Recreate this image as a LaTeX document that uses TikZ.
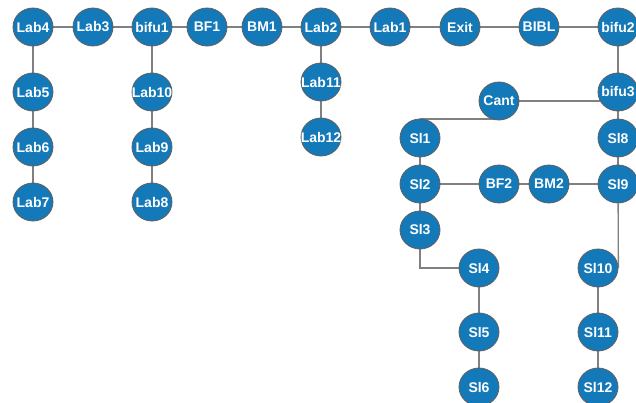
\documentclass[tikz,border=0pt]{standalone}
\usepackage{fontspec}
\setmainfont{Liberation Sans}
\usetikzlibrary{shapes.geometric,backgrounds}
\definecolor{nodeblue}{RGB}{19,121,185}
\definecolor{rimgray}{RGB}{95,95,95}
\definecolor{linkgray}{RGB}{128,128,128}
\tikzset{
  station/.style={ellipse, fill=nodeblue, draw=rimgray, line width=0.8pt,
    minimum width=40pt, minimum height=38pt, inner sep=0pt,
    text=white, font=\fontsize{14}{14}\selectfont\bfseries},
  link/.style={draw=linkgray, line width=1.3pt}
}
% label of a station, centred and allowed to run past the rim
\newcommand{\tag}[1]{\makebox[0pt][c]{#1}}
\begin{document}
\begin{tikzpicture}[x=1pt,y=-1pt]
\useasboundingbox[clip] (0,0) rectangle (636,403);
% top corridor
\node[station] (Lab4)  at (33,27)  {\tag{Lab4}};
\node[station] (Lab3)  at (93,27)  {\tag{Lab3}};
\node[station] (bifu1) at (152,27) {\tag{bifu1}};
\node[station] (BF1)   at (207,27) {\tag{BF1}};
\node[station] (BM1)   at (262,27) {\tag{BM1}};
\node[station] (Lab2)  at (321,27) {\tag{Lab2}};
\node[station] (Lab1)  at (390,27) {\tag{Lab1}};
\node[station] (Exit)  at (460,27) {\tag{Exit}};
\node[station] (BIBL)  at (539,27) {\tag{BIBL}};
\node[station] (bifu2) at (618,27) {\tag{bifu2}};
% left branches
\node[station] (Lab5)  at (33,92)   {\tag{Lab5}};
\node[station] (Lab6)  at (33,147)  {\tag{Lab6}};
\node[station] (Lab7)  at (33,202)  {\tag{Lab7}};
\node[station] (Lab10) at (152,92)  {\tag{Lab10}};
\node[station] (Lab9)  at (152,147) {\tag{Lab9}};
\node[station] (Lab8)  at (152,202) {\tag{Lab8}};
\node[station] (Lab11) at (321,82)  {\tag{Lab11}};
\node[station] (Lab12) at (321,137) {\tag{Lab12}};
% right wing
\node[station] (bifu3) at (618,92)  {\tag{bifu3}};
\node[station] (Cant)  at (499,101) {\tag{Cant}};
\node[station] (Sl1)   at (420,138) {\tag{Sl1}};
\node[station] (Sl2)   at (420,184) {\tag{Sl2}};
\node[station] (Sl3)   at (420,230) {\tag{Sl3}};
\node[station] (BF2)   at (499,184) {\tag{BF2}};
\node[station] (BM2)   at (549,184) {\tag{BM2}};
\node[station] (Sl8)   at (618,138) {\tag{Sl8}};
\node[station] (Sl9)   at (618,184) {\tag{Sl9}};
\node[station] (Sl4)   at (479,268) {\tag{Sl4}};
\node[station] (Sl5)   at (479,332) {\tag{Sl5}};
\node[station] (Sl6)   at (479,387) {\tag{Sl6}};
\node[station] (Sl10)  at (598,268) {\tag{Sl10}};
\node[station] (Sl11)  at (598,332) {\tag{Sl11}};
\node[station] (Sl12)  at (598,387) {\tag{Sl12}};
\begin{pgfonlayer}{background}
  \fill[white] (0,0) rectangle (636,403);
  \draw[link] (Lab4) -- (Lab3) -- (bifu1) -- (BF1) -- (BM1) -- (Lab2)
              -- (Lab1) -- (Exit) -- (BIBL) -- (bifu2);
  \draw[link] (Lab4) -- (Lab5) -- (Lab6) -- (Lab7);
  \draw[link] (bifu1) -- (Lab10) -- (Lab9) -- (Lab8);
  \draw[link] (Lab2) -- (Lab11) -- (Lab12);
  \draw[link] (bifu2) -- (bifu3) -- (Sl8) -- (Sl9);
  \draw[link] (Cant) -- (Cant -| bifu3);
  \draw[link] ([yshift=-18pt]Cant.center) -| (Sl1);
  \draw[link] (Sl1) -- (Sl2) -- (Sl3);
  \draw[link] (Sl2) -- (BF2) -- (BM2) -- (Sl9);
  \draw[link] (Sl3) |- (Sl4);
  \draw[link] (Sl9) -- (Sl10.east);
  \draw[link] (Sl4) -- (Sl5) -- (Sl6);
  \draw[link] (Sl10) -- (Sl11) -- (Sl12);
\end{pgfonlayer}
\end{tikzpicture}
\end{document}
